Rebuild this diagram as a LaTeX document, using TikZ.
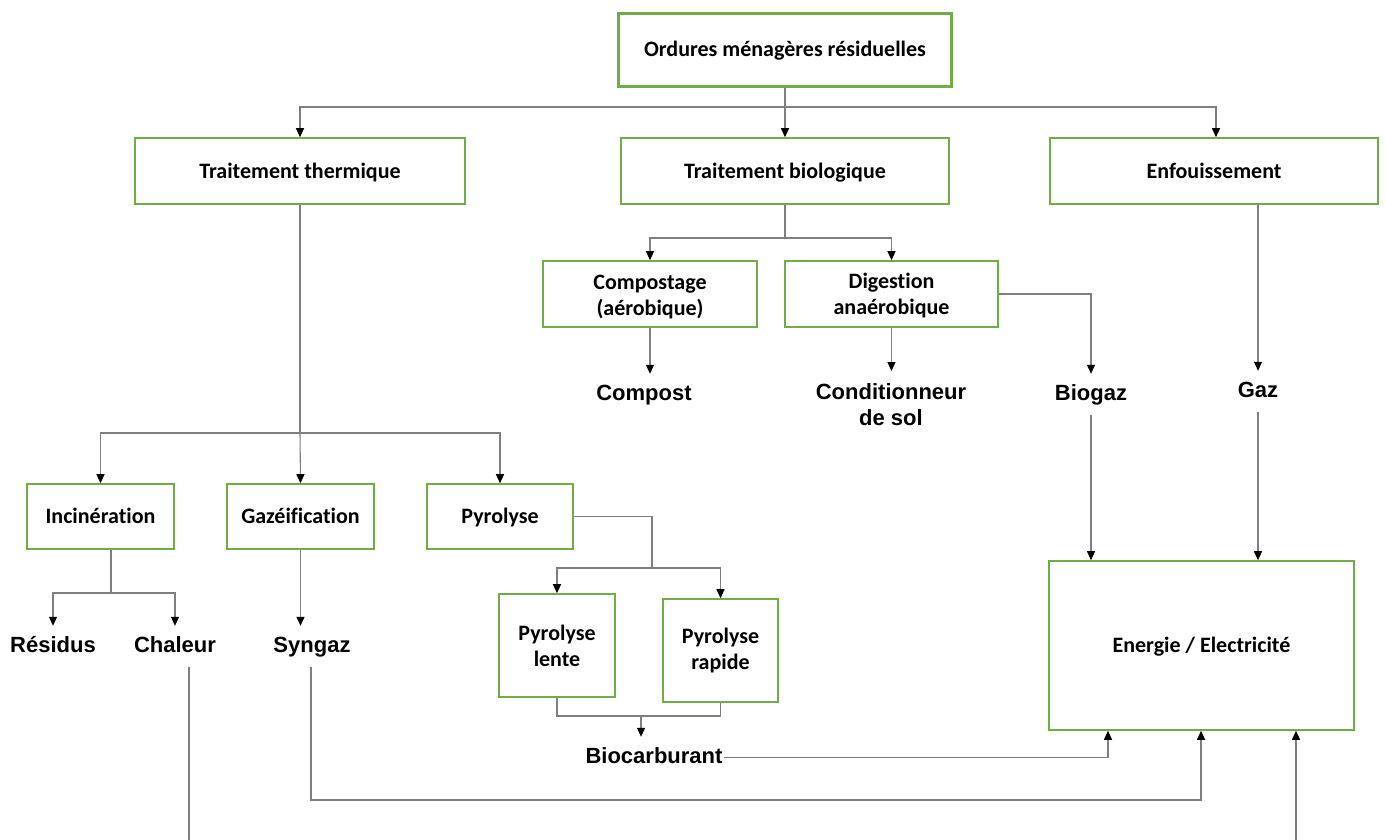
\documentclass[tikz,border=0pt]{standalone}
\usepackage{fontspec}
\setmainfont{Carlito}[Ligatures=NoCommon]
\newfontfamily\arialfont{Liberation Sans}
\usetikzlibrary{arrows.meta}
\definecolor{boxgreen}{HTML}{70AD47}
\definecolor{linegray}{HTML}{7F7F7F}
\tikzset{
  x=1pt, y=-1pt,
  box/.style={draw=boxgreen, line width=1.6pt, fill=white, inner sep=0pt, align=center,
    font=\fontsize{22}{26}\selectfont\bfseries},
  boxone/.style={box, text height=16pt, text depth=2pt},
  lbl/.style={inner xsep=1pt, inner ysep=10pt, align=center,
    font=\arialfont\fontsize{22}{26}\selectfont\bfseries},
  lblone/.style={lbl, text height=16pt, text depth=5pt},
  conn/.style={draw=linegray, line width=1.1pt},
  arr/.style={conn, -{Triangle[length=9pt,width=8pt,color=black]}}
}
\begin{document}
\begin{tikzpicture}
\useasboundingbox[fill=white] (0,0) rectangle (1386,840);
% boxes
\node[boxone, line width=3.2pt, minimum width=333pt, minimum height=73pt] (top) at (785,50) {Ordures ménagères résiduelles};
\node[boxone, minimum width=330pt, minimum height=66pt] (tt) at (300,171) {Traitement thermique};
\node[boxone, minimum width=328pt, minimum height=66pt] (tb) at (785,171) {Traitement biologique};
\node[boxone, minimum width=328pt, minimum height=66pt] (enf) at (1214,171) {Enfouissement};
\node[box, minimum width=214pt, minimum height=66pt] (comp) at (650,294) {\rule{0pt}{21pt}Compostage\\(aérobique)};
\node[box, minimum width=213pt, minimum height=66pt] (dig) at (891.5,294) {\rule{0pt}{19pt}Digestion\\anaérobique};
\node[boxone, minimum width=147pt, minimum height=65pt] (inc) at (100.5,516.5) {Incinération};
\node[boxone, minimum width=147pt, minimum height=65pt] (gaz) at (300.5,516.5) {Gazéification};
\node[boxone, minimum width=146pt, minimum height=65pt] (pyr) at (500,516.5) {Pyrolyse};
\node[box, minimum width=116pt, minimum height=103pt] (lente) at (557,645.5) {Pyrolyse\\lente};
\node[box, minimum width=115pt, minimum height=103pt] (rapide) at (720.5,650.5) {Pyrolyse\\rapide};
\node[boxone, minimum width=305pt, minimum height=169pt] (ener) at (1201.5,645.5) {Energie / Electricité};
% labels
\node[lblone] (compost) at (644,394.5) {Compost};
\node[lbl, inner ysep=12pt, anchor=north] (cond) at (891,371) {Conditionneur\\de sol};
\node[lblone] (biogaz) at (1091,394.5) {Biogaz};
\node[lblone] (gazl) at (1258,391.5) {Gaz};
\node[lblone] (res) at (53,646.5) {Résidus};
\node[lblone] (chal) at (175,646.5) {Chaleur};
\node[lblone] (syn) at (312,646.5) {Syngaz};
\node[lblone] (bio) at (654,757.5) {Biocarburant};
% junction coordinates
\coordinate (j1) at (785,107);
\coordinate (j2) at (300,433);
\coordinate (j3) at (111,593);
\coordinate (j4) at (652,568);
\coordinate (j5) at (641,716);
\coordinate (j6) at (785,238);
\coordinate (sb) at (1201,800);
\coordinate (chb) at (189,840);
\coordinate (enb) at (1296,840);
% connectors
\draw[conn] (top.south) -- (j1);
\draw[arr] (j1) -- (tb.north);
\draw[arr] (j1) -| (tt.north);
\draw[arr] (j1) -| ([xshift=2pt]enf.north);
\draw[conn] (tt.south) -- (j2);
\draw[arr] (j2) -| (inc.north);
\draw[arr] (j2) -- (gaz.north);
\draw[arr] (j2) -| (pyr.north);
\draw[conn] ([xshift=10.5pt]inc.south) -- (j3);
\draw[arr] (j3) -| (res.north);
\draw[arr] (j3) -| (chal.north);
\draw[arr] (gaz.south) -- (gaz.south |- syn.north);
\draw[conn] (pyr.east) -| (j4);
\draw[arr] (j4) -| (lente.north);
\draw[arr] (j4) -| (rapide.north);
\draw[conn] (lente.south) |- (rapide.south |- j5) -- (rapide.south);
\draw[arr] (j5) -- (j5 |- bio.north);
\draw[conn] (tb.south) -- (j6);
\draw[arr] (j6) -| (comp.north);
\draw[arr] (j6) -| (dig.north);
\draw[arr] (comp.south) -- (comp.south |- compost.north);
\draw[arr] (dig.south) -- (dig.south |- cond.north);
\draw[arr] (dig.east) -| (biogaz.north);
\draw[arr] ([xshift=44pt]enf.south) -- (gazl.north);
\draw[arr] (biogaz.south) -- (biogaz.south |- ener.north);
\draw[arr] (gazl.south) -- (gazl.south |- ener.north);
\draw[arr] (bio.east) -| ([xshift=-93.5pt]ener.south);
\draw[arr] ([xshift=-1pt]syn.south) |- (sb) -- (sb |- ener.south);
\draw[conn] ([xshift=14pt]chal.south) -- (chb);
\draw[arr] (enb) -- (enb |- ener.south);
\end{tikzpicture}
\end{document}
